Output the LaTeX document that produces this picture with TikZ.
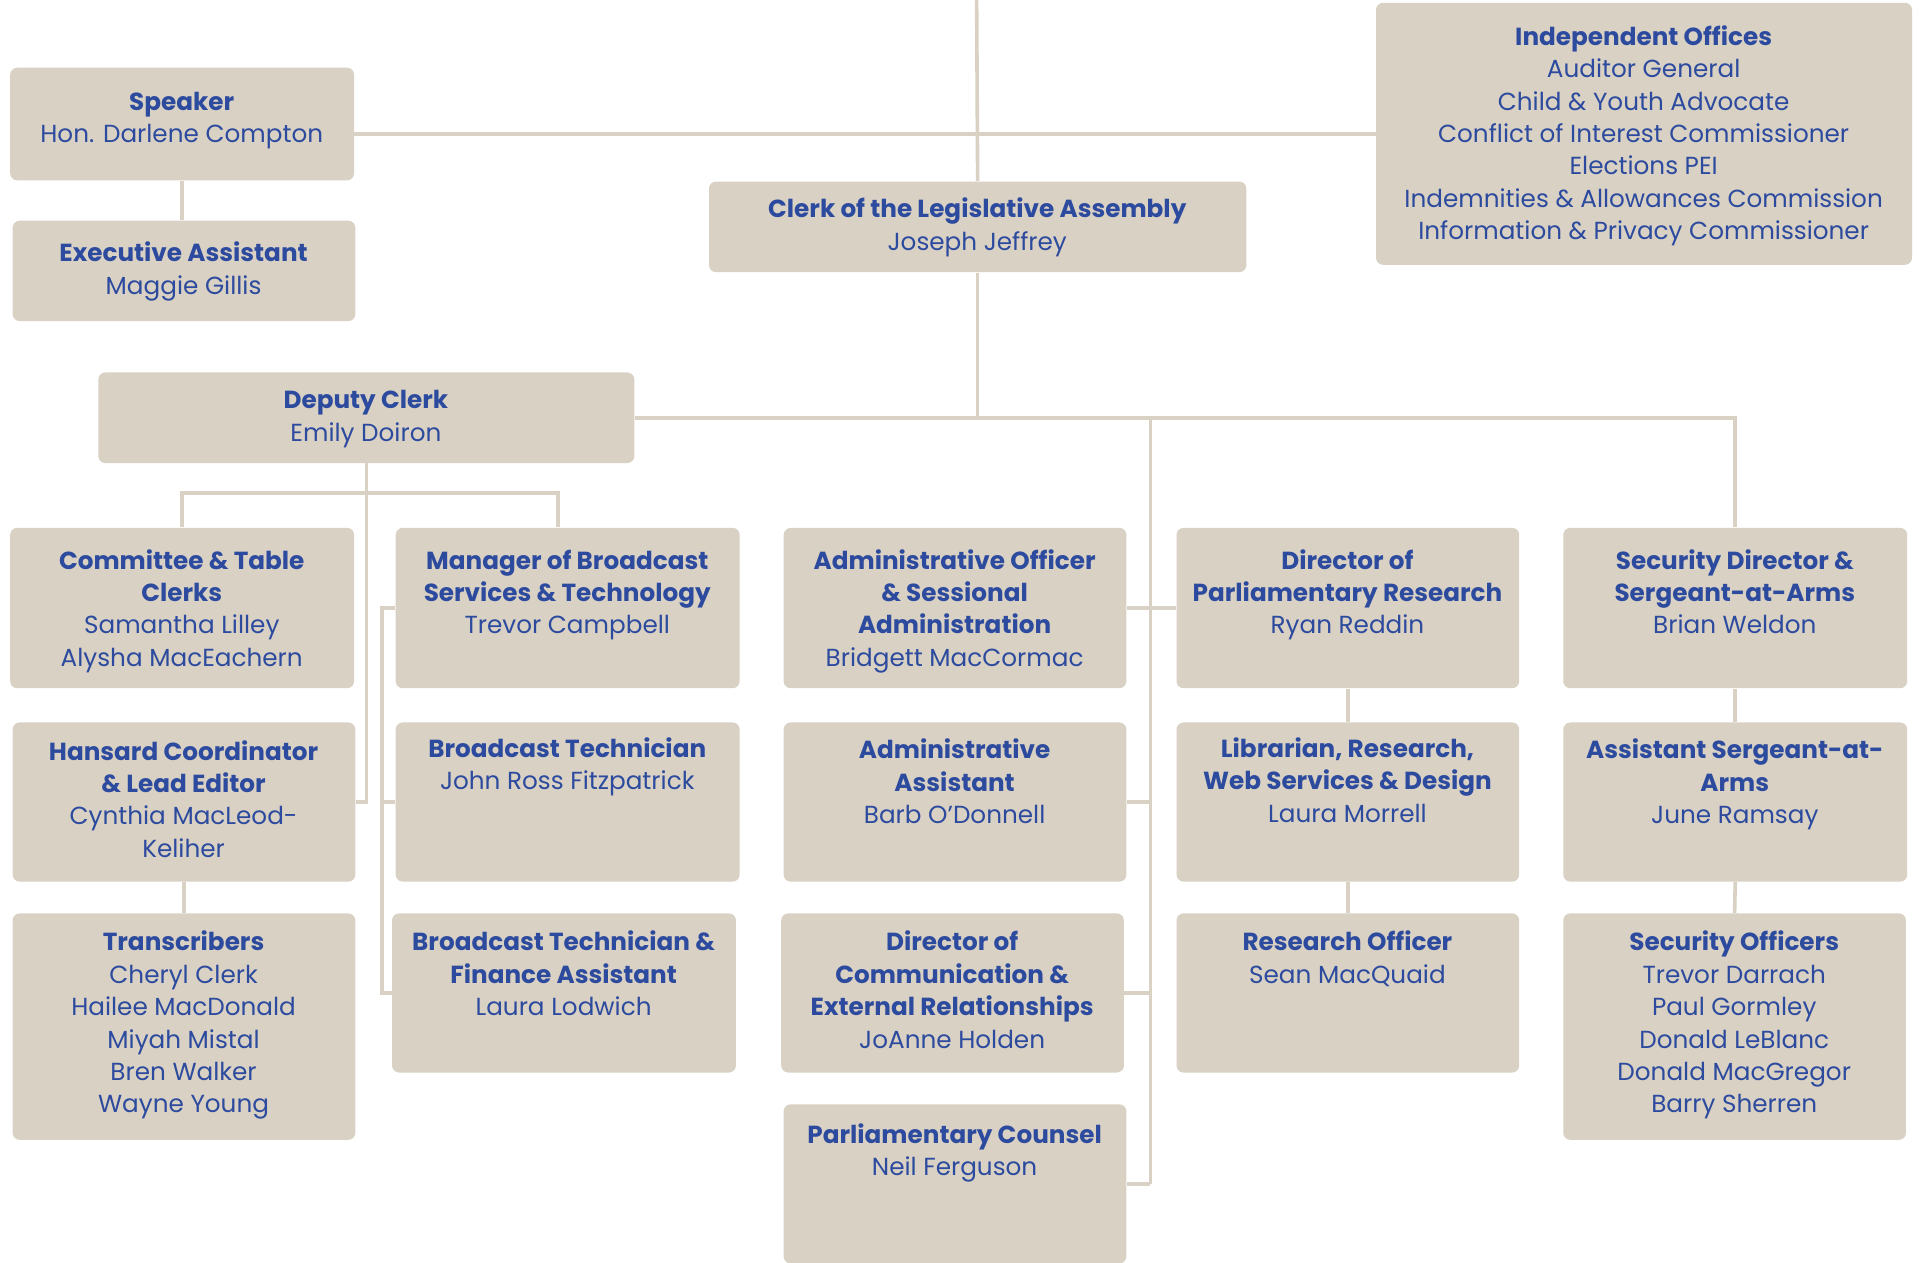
\documentclass[tikz,border=0pt]{standalone}
\usepackage{fontspec}
\setmainfont{Poppins}
\usetikzlibrary{calc}
\definecolor{ink}{HTML}{2C4A9E}
\definecolor{sand}{HTML}{D9D1C4}
\tikzset{
  orgbox/.style={fill=sand, draw=none, rounded corners=3.5pt, inner sep=0pt, anchor=north west},
  txt/.style={anchor=base, inner sep=0pt, text=ink, font=\fontsize{12.35}{16.2}\selectfont},
  conn/.style={draw=sand, line width=1.8pt},
}
\newcommand{\mkbox}[7]{%
  \pgfmathsetmacro\bw{(#4-#2)*0.612}%
  \pgfmathsetmacro\bh{(#5-#3)*0.612}%
  \node[orgbox, minimum width=\bw pt, minimum height=\bh pt] (#1) at (#2,#3) {};
  \node[txt] (#1-t) at ({(#2+#4)/2},{#3+#6+2}) {\begin{tabular}[t]{@{}c@{}}#7\end{tabular}};}
\newcommand{\ttl}[1]{{\bfseries #1}}
\begin{document}
\begin{tikzpicture}[x=0.612pt, y=-0.612pt]
\clip (0,0) rectangle (1568,1031.2);
\fill[white] (0,0) rectangle (1568,1031.2);
% top row
\mkbox{spk}{8}{55}{289}{147}{33}{\ttl{Speaker}\\Hon. Darlene Compton}
\mkbox{exe}{10}{180}{290}{262}{32}{\ttl{Executive Assistant}\\Maggie Gillis}
\mkbox{clk}{579}{148}{1018}{222}{28}{\ttl{Clerk of the Legislative Assembly}\\Joseph Jeffrey}
\mkbox{ind}{1124}{2}{1562}{216}{33}{\ttl{Independent Offices}\\Auditor General\\Child \& Youth Advocate\\Conflict of Interest Commissioner\\Elections PEI\\Indemnities \& Allowances Commission\\Information \& Privacy Commissioner}
\mkbox{dep}{80}{304}{518}{378}{28}{\ttl{Deputy Clerk}\\Emily Doiron}
% column 1
\mkbox{com}{8}{431}{289}{562}{32}{\ttl{Committee \& Table}\\\ttl{Clerks}\\Samantha Lilley\\Alysha MacEachern}
\mkbox{han}{10}{590}{290}{720}{29}{\ttl{Hansard Coordinator}\\\ttl{\& Lead Editor}\\Cynthia MacLeod-\\Keliher}
\mkbox{tra}{10}{746}{290}{931}{29}{\ttl{Transcribers}\\Cheryl Clerk\\Hailee MacDonald\\Miyah Mistal\\Bren Walker\\Wayne Young}
% column 2
\mkbox{man}{323}{431}{604}{562}{32}{\ttl{Manager of Broadcast}\\\ttl{Services \& Technology}\\Trevor Campbell}
\mkbox{bt}{323}{590}{604}{720}{27}{\ttl{Broadcast Technician}\\John Ross Fitzpatrick}
\mkbox{btf}{320}{746}{601}{876}{29}{\ttl{Broadcast Technician \&}\\\ttl{Finance Assistant}\\Laura Lodwich}
% column 3
\mkbox{ado}{640}{431}{920}{562}{32}{\ttl{Administrative Officer}\\\ttl{\& Sessional}\\\ttl{Administration}\\Bridgett MacCormac}
\mkbox{aas}{640}{590}{920}{720}{28}{\ttl{Administrative}\\\ttl{Assistant}\\Barb O’Donnell}
\mkbox{dcm}{638}{746}{918}{876}{29}{\ttl{Director of}\\\ttl{Communication \&}\\\ttl{External Relationships}\\JoAnne Holden}
\mkbox{pcn}{640}{902}{920}{1032}{30}{\ttl{Parliamentary Counsel}\\Neil Ferguson}
% column 4
\mkbox{dpr}{961}{431}{1241}{562}{32}{\ttl{Director of}\\\ttl{Parliamentary Research}\\Ryan Reddin}
\mkbox{lib}{961}{590}{1241}{720}{27}{\ttl{Librarian, Research,}\\\ttl{Web Services \& Design}\\Laura Morrell}
\mkbox{res}{961}{746}{1241}{876}{29}{\ttl{Research Officer}\\Sean MacQuaid}
% column 5
\mkbox{sdr}{1277}{431}{1558}{562}{32}{\ttl{Security Director \&}\\\ttl{Sergeant-at-Arms}\\Brian Weldon}
\mkbox{asa}{1277}{590}{1558}{720}{28}{\ttl{Assistant Sergeant-at-}\\\ttl{Arms}\\June Ramsay}
\mkbox{sof}{1277}{746}{1557}{931}{29}{\ttl{Security Officers}\\Trevor Darrach\\Paul Gormley\\Donald LeBlanc\\Donald MacGregor\\Barry Sherren}
% helper coordinates
\coordinate (top) at (798,0);
\coordinate (bus) at (940,341);
\coordinate (mb) at (312,497);
\coordinate (mtop) at (456,431);
% connectors
\draw[conn] (top) -- (clk.north);
\draw[conn] (ind.west) -- (ind.west -| spk.east);
\draw[conn] (spk.south) -- (spk.south |- exe.north);
\draw[conn] (clk.south) -- (clk.south |- dep.east);
\draw[conn] (dep.east) -| (sdr.north);
\draw[conn] (bus) -- (bus |- pcn.east);
\draw[conn] (ado.east) -- (dpr.west);
\draw[conn] (aas.east) -- (aas.east -| bus);
\draw[conn] (dcm.east) -- (dcm.east -| bus);
\draw[conn] (pcn.east) -- (pcn.east -| bus);
\draw[conn] (dpr.south) -- (lib.north);
\draw[conn] (lib.south) -- (res.north);
\draw[conn] (sdr.south) -- (asa.north);
\draw[conn] (asa.south) -- (sof.north);
\draw[conn] (dep.south) |- (han.east);
\draw[conn] (com.north) -- ++(0,-28) -| (mtop);
\draw[conn] (man.west) -- (man.west -| mb) |- (btf.west);
\draw[conn] (bt.west) -- (bt.west -| mb);
\draw[conn] (han.south) -- (han.south |- tra.north);
\end{tikzpicture}
\end{document}
